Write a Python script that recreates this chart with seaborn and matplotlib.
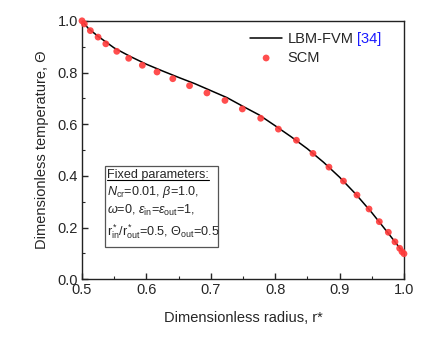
import matplotlib
matplotlib.use("Agg")
import matplotlib.pyplot as plt
import seaborn as sns
import pandas as pd
from matplotlib.patches import Rectangle

# --- data ---
line_r = [0.500, 0.510, 0.525, 0.550, 0.575, 0.600, 0.625, 0.650, 0.675, 0.700,
          0.725, 0.750, 0.775, 0.800, 0.825, 0.850, 0.875, 0.900, 0.925, 0.950,
          0.975, 1.000]
line_theta = [1.000, 0.970, 0.940, 0.895, 0.862, 0.832, 0.806, 0.781, 0.757, 0.730,
              0.703, 0.669, 0.636, 0.594, 0.551, 0.505, 0.453, 0.395, 0.330, 0.258,
              0.180, 0.100]

scm_r = [0.500, 0.5036, 0.513, 0.525, 0.537, 0.554, 0.5725, 0.5937, 0.6165, 0.641,
         0.667, 0.694, 0.722, 0.749, 0.7775, 0.805, 0.833, 0.8587, 0.8835, 0.906,
         0.927, 0.9457, 0.9617, 0.9757, 0.986, 0.9933, 0.9969, 1.000]
scm_theta = [1.000, 0.988, 0.962, 0.937, 0.911, 0.882, 0.855, 0.828, 0.802, 0.776,
             0.749, 0.721, 0.692, 0.659, 0.623, 0.581, 0.538, 0.487, 0.434, 0.380,
             0.326, 0.272, 0.223, 0.182, 0.145, 0.120, 0.107, 0.099]

x_ticks = [0.5, 0.6, 0.7, 0.8, 0.9, 1.0]
y_ticks = [0.0, 0.2, 0.4, 0.6, 0.8, 1.0]

sns.set_style("ticks")
plt.rcParams["font.family"] = ["Liberation Sans", "DejaVu Sans"]
plt.rcParams["mathtext.fontset"] = "custom"
plt.rcParams["mathtext.rm"] = "Liberation Sans"
plt.rcParams["mathtext.it"] = "Liberation Sans:italic"
plt.rcParams["mathtext.bf"] = "Liberation Sans:bold"

fig = plt.figure(figsize=(4.35, 3.4), dpi=100)
fig.patch.set_facecolor("white")
ax = fig.add_axes([0.1885, 0.1785, 0.7402, 0.7603])

df_line = pd.DataFrame({"r": line_r, "theta": line_theta})
df_scm = pd.DataFrame({"r": scm_r, "theta": scm_theta})

sns.lineplot(data=df_line, x="r", y="theta", ax=ax, color="black", lw=1.1,
             label="LBM-FVM", sort=False)
sns.scatterplot(data=df_scm, x="r", y="theta", ax=ax, color="#FF3B3B", s=24,
                edgecolor="none", alpha=0.9, label="SCM", zorder=3, clip_on=False)

ax.set_xlim(0.5, 1.0)
ax.set_ylim(0.0, 1.0)
ax.set_xticks(x_ticks)
ax.set_yticks(y_ticks)
ax.set_xticklabels([f"{v:.1f}" for v in x_ticks])
ax.set_yticklabels([f"{v:.1f}" for v in y_ticks])
ax.set_xticks([0.55, 0.65, 0.75, 0.85, 0.95], minor=True)
ax.set_yticks([0.1, 0.3, 0.5, 0.7, 0.9], minor=True)
ax.tick_params(which="major", direction="in", length=4, width=1, labelsize=10.5,
               top=False, right=False, pad=3)
ax.tick_params(which="minor", direction="in", length=2.5, width=0.8,
               top=False, right=False)
for s in ax.spines.values():
    s.set_linewidth(1.0)
    s.set_color("#222222")

ax.set_xlabel("Dimensionless radius, r*", fontsize=10.5, labelpad=10)
ax.set_ylabel("Dimensionless temperature, Θ", fontsize=10.5, labelpad=6)

leg = ax.legend(loc="upper left", bbox_to_anchor=(0.522, 0.955), frameon=False,
                fontsize=10.5, handlelength=2.2, handletextpad=0.35,
                labelspacing=0.3, borderpad=0, borderaxespad=0)

# Fixed-parameters box
ax.add_patch(Rectangle((0.071, 0.125), 0.351, 0.313, transform=ax.transAxes,
                       facecolor="white", edgecolor="#555555", lw=0.9, zorder=4))
tx = 0.079
fs = 9.1
t1 = ax.text(tx, 0.405, "Fixed parameters:", transform=ax.transAxes, fontsize=fs,
             va="center", ha="left", zorder=5)
ax.text(tx, 0.338, r"$N_{\mathrm{cr}}$=0.01, $\beta$=1.0,", transform=ax.transAxes,
        fontsize=fs, va="center", ha="left", zorder=5)
ax.text(tx, 0.268, r"$\omega$=0, $\varepsilon_{\mathrm{in}}$=$\varepsilon_{\mathrm{out}}$=1,",
        transform=ax.transAxes, fontsize=fs, va="center", ha="left", zorder=5)
ax.text(tx, 0.185, r"r$^*_{\mathrm{in}}$/r$^*_{\mathrm{out}}$=0.5, $\Theta_{\mathrm{out}}$=0.5",
        transform=ax.transAxes, fontsize=fs, va="center", ha="left", zorder=5)

fig.canvas.draw()
inv = ax.transAxes.inverted()
bb = t1.get_window_extent()
(x0, y0) = inv.transform((bb.x0, bb.y0))
(x1, _) = inv.transform((bb.x1, bb.y0))
ax.plot([x0, x1], [y0 + 0.004, y0 + 0.004], transform=ax.transAxes, color="black",
        lw=0.8, zorder=6, clip_on=False)

# blue reference tag after legend label
lt = leg.get_texts()[0]
lb = lt.get_window_extent()
fx, fy = fig.transFigure.inverted().transform((lb.x1, (lb.y0 + lb.y1) / 2))
fig.text(fx + 0.008, fy, "[34]", color="#1a1aff", fontsize=10.5, va="center", ha="left")

fig.savefig("out.png", dpi=100, facecolor="white")
